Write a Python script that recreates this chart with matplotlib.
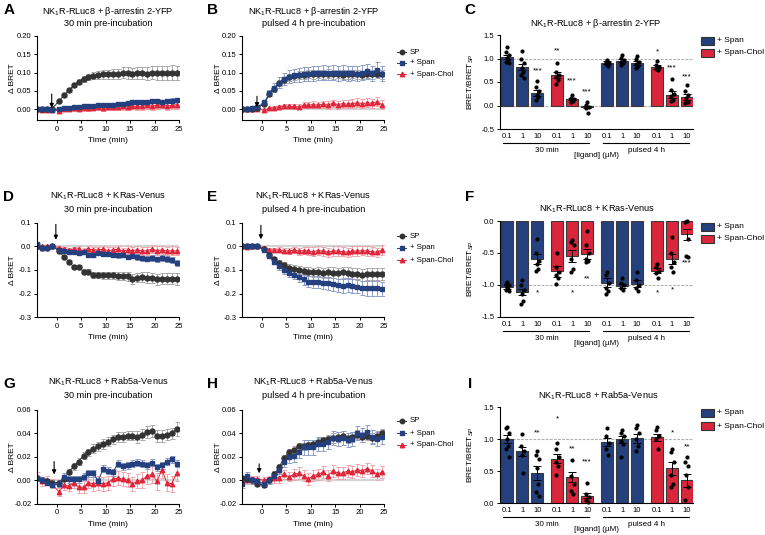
import matplotlib.pyplot as plt
from matplotlib.lines import Line2D
from matplotlib.patches import Rectangle

plt.rcParams['font.family'] = ['Liberation Sans', 'DejaVu Sans']
plt.rcParams['mathtext.fontset'] = 'custom'
plt.rcParams['mathtext.rm'] = 'Liberation Sans'
plt.rcParams['mathtext.it'] = 'Liberation Sans:italic'
plt.rcParams['axes.unicode_minus'] = False
plt.rcParams['axes.linewidth'] = 0.8

# ---------------- data ----------------
time_min = [-4, -3, -2, -1, 0.5, 1.5, 2.5, 3.5, 4.5, 5.5, 6.5, 7.5, 8.5, 9.5, 10.5,
            11.5, 12.5, 13.5, 14.5, 15.5, 16.5, 17.5, 18.5, 19.5, 20.5, 21.5, 22.5,
            23.5, 24.5]

# A: beta-arrestin, 30 min
A_sp = [0.0, 0.0, 0.0, 0.0,
        0.022, 0.038, 0.052, 0.065, 0.075, 0.083, 0.088, 0.091, 0.093, 0.095,
        0.095, 0.096, 0.097, 0.099, 0.098, 0.097, 0.098, 0.099, 0.097, 0.099,
        0.098, 0.099, 0.099, 0.100, 0.099]
A_sp_err = [0.002, 0.002, 0.002, 0.002,
            0.003, 0.004, 0.005, 0.006, 0.007, 0.008, 0.009, 0.010, 0.011, 0.012,
            0.013, 0.014, 0.014, 0.015, 0.016, 0.016, 0.017, 0.017, 0.018, 0.018,
            0.019, 0.019, 0.020, 0.020, 0.020]
A_span = [0.0, 0.0, 0.0, -0.002,
          0.000, 0.003, 0.004, 0.005, 0.006, 0.007, 0.007, 0.008, 0.010, 0.010,
          0.011, 0.012, 0.013, 0.015, 0.017, 0.018, 0.019, 0.020, 0.020, 0.022,
          0.021, 0.020, 0.022, 0.023, 0.024]
A_span_err = [0.002, 0.002, 0.002, 0.002,
              0.003, 0.003, 0.003, 0.004, 0.004, 0.004, 0.004, 0.004, 0.005, 0.005,
              0.005, 0.005, 0.005, 0.005, 0.005, 0.005, 0.006, 0.006, 0.006, 0.006,
              0.006, 0.006, 0.006, 0.006, 0.006]
A_chol = [0.0, -0.002, -0.002, -0.002,
          -0.005, -0.001, 0.000, 0.002, 0.001, 0.003, 0.002, 0.004, 0.005, 0.003,
          0.005, 0.006, 0.005, 0.007, 0.006, 0.008, 0.007, 0.008, 0.010, 0.008,
          0.010, 0.012, 0.008, 0.010, 0.012]
A_chol_err = [0.003, 0.003, 0.003, 0.003,
              0.005, 0.005, 0.005, 0.006, 0.006, 0.006, 0.007, 0.007, 0.007, 0.008,
              0.008, 0.008, 0.008, 0.009, 0.009, 0.009, 0.009, 0.010, 0.010, 0.010,
              0.010, 0.010, 0.011, 0.011, 0.011]

# B: beta-arrestin, pulsed 4 h
B_sp = [0.0, 0.0, 0.0, 0.002,
        0.015, 0.040, 0.056, 0.070, 0.080, 0.087, 0.090, 0.092, 0.094, 0.095,
        0.095, 0.096, 0.095, 0.097, 0.095, 0.096, 0.094, 0.095, 0.096, 0.095,
        0.093, 0.096, 0.095, 0.097, 0.095]
B_sp_err = [0.002, 0.002, 0.002, 0.002,
            0.003, 0.005, 0.007, 0.008, 0.009, 0.010, 0.010, 0.011, 0.011, 0.011,
            0.012, 0.012, 0.012, 0.012, 0.012, 0.012, 0.012, 0.012, 0.012, 0.012,
            0.012, 0.012, 0.012, 0.012, 0.012]
B_span = [0.0, 0.0, 0.002, 0.005,
          0.018, 0.043, 0.058, 0.072, 0.082, 0.088, 0.092, 0.093, 0.096, 0.096,
          0.098, 0.099, 0.100, 0.099, 0.100, 0.098, 0.100, 0.098, 0.099, 0.097,
          0.100, 0.103, 0.098, 0.108, 0.097]
B_span_err = [0.002, 0.002, 0.002, 0.003,
              0.004, 0.008, 0.012, 0.015, 0.017, 0.018, 0.019, 0.019, 0.020, 0.020,
              0.020, 0.020, 0.020, 0.020, 0.020, 0.020, 0.020, 0.020, 0.020, 0.020,
              0.020, 0.020, 0.020, 0.020, 0.020]
B_chol = [0.0, 0.0, 0.0, 0.0,
          -0.003, 0.002, 0.004, 0.006, 0.008, 0.008, 0.007, 0.006, 0.010, 0.011,
          0.012, 0.011, 0.013, 0.011, 0.016, 0.012, 0.015, 0.013, 0.015, 0.017,
          0.015, 0.017, 0.016, 0.020, 0.012]
B_chol_err = [0.002, 0.002, 0.002, 0.002,
              0.003, 0.004, 0.005, 0.005, 0.006, 0.006, 0.007, 0.007, 0.008, 0.008,
              0.009, 0.009, 0.010, 0.010, 0.010, 0.011, 0.011, 0.011, 0.012, 0.012,
              0.012, 0.012, 0.012, 0.012, 0.012]

# D: KRas, 30 min
D_sp = [0.0, -0.005, -0.005, 0.003,
        -0.020, -0.045, -0.065, -0.087, -0.088, -0.107, -0.108, -0.120, -0.122, -0.122,
        -0.123, -0.123, -0.124, -0.125, -0.126, -0.138, -0.132, -0.130, -0.132, -0.134,
        -0.140, -0.137, -0.136, -0.137, -0.137]
D_sp_err = [0.004, 0.004, 0.004, 0.004,
            0.005, 0.006, 0.007, 0.008, 0.009, 0.010, 0.011, 0.012, 0.013, 0.014,
            0.015, 0.016, 0.017, 0.018, 0.019, 0.020, 0.020, 0.021, 0.022, 0.022,
            0.023, 0.023, 0.024, 0.024, 0.025]
D_span = [0.012, -0.005, -0.005, 0.000,
          -0.015, -0.020, -0.025, -0.025, -0.028, -0.022, -0.035, -0.035, -0.030, -0.033,
          -0.032, -0.037, -0.038, -0.035, -0.045, -0.040, -0.045, -0.050, -0.052, -0.050,
          -0.055, -0.050, -0.055, -0.057, -0.070]
D_span_err = [0.004, 0.004, 0.004, 0.004,
              0.005, 0.005, 0.006, 0.006, 0.007, 0.007, 0.008, 0.008, 0.008, 0.009,
              0.009, 0.009, 0.010, 0.010, 0.010, 0.011, 0.011, 0.011, 0.012, 0.012,
              0.012, 0.012, 0.013, 0.013, 0.013]
D_chol = [0.0, 0.0, 0.0, 0.0,
          -0.005, -0.010, -0.015, -0.012, -0.010, -0.020, -0.010, -0.015, -0.015, -0.012,
          -0.018, -0.015, -0.012, -0.020, -0.015, -0.018, -0.015, -0.020, -0.018, -0.012,
          -0.018, -0.015, -0.020, -0.018, -0.020]
D_chol_err = [0.004, 0.004, 0.004, 0.004,
              0.006, 0.007, 0.008, 0.009, 0.010, 0.011, 0.012, 0.012, 0.013, 0.013,
              0.014, 0.014, 0.015, 0.015, 0.016, 0.016, 0.017, 0.017, 0.017, 0.018,
              0.018, 0.018, 0.018, 0.018, 0.018]

# E: KRas, pulsed 4 h
E_sp = [0.0, 0.0, 0.0, 0.0,
        -0.012, -0.035, -0.055, -0.070, -0.080, -0.090, -0.095, -0.100, -0.105, -0.108,
        -0.110, -0.110, -0.112, -0.110, -0.112, -0.113, -0.110, -0.113, -0.115, -0.115,
        -0.120, -0.118, -0.117, -0.118, -0.117]
E_sp_err = [0.004, 0.004, 0.004, 0.004,
            0.005, 0.007, 0.009, 0.011, 0.013, 0.015, 0.016, 0.017, 0.018, 0.019,
            0.020, 0.021, 0.022, 0.022, 0.023, 0.023, 0.024, 0.024, 0.025, 0.025,
            0.025, 0.025, 0.025, 0.025, 0.025]
E_span = [0.0, 0.0, 0.0, 0.0,
          -0.015, -0.040, -0.065, -0.085, -0.100, -0.112, -0.120, -0.130, -0.140, -0.150,
          -0.150, -0.152, -0.155, -0.157, -0.160, -0.165, -0.168, -0.163, -0.168, -0.170,
          -0.175, -0.178, -0.178, -0.178, -0.180]
E_span_err = [0.004, 0.004, 0.004, 0.004,
              0.006, 0.008, 0.010, 0.013, 0.015, 0.017, 0.019, 0.021, 0.022, 0.023,
              0.024, 0.025, 0.026, 0.026, 0.027, 0.027, 0.028, 0.028, 0.029, 0.029,
              0.029, 0.030, 0.030, 0.030, 0.030]
E_chol = [0.0, -0.003, 0.0, 0.0,
          -0.005, -0.015, -0.015, -0.015, -0.018, -0.020, -0.015, -0.020, -0.018, -0.020,
          -0.022, -0.018, -0.020, -0.025, -0.020, -0.020, -0.022, -0.025, -0.020, -0.020,
          -0.018, -0.020, -0.022, -0.025, -0.015]
E_chol_err = [0.005, 0.005, 0.005, 0.005,
              0.007, 0.009, 0.010, 0.011, 0.012, 0.013, 0.014, 0.015, 0.016, 0.017,
              0.018, 0.018, 0.019, 0.019, 0.020, 0.020, 0.020, 0.020, 0.020, 0.020,
              0.020, 0.020, 0.020, 0.020, 0.020]

# G: Rab5a, 30 min
G_sp = [0.002, 0.0, -0.001, -0.002,
        -0.002, 0.001, 0.007, 0.012, 0.016, 0.021, 0.024, 0.027, 0.029, 0.031,
        0.033, 0.035, 0.037, 0.037, 0.038, 0.038, 0.037, 0.039, 0.041, 0.042,
        0.038, 0.038, 0.039, 0.040, 0.044]
G_sp_err = [0.002, 0.002, 0.002, 0.002,
            0.002, 0.002, 0.003, 0.003, 0.003, 0.003, 0.003, 0.004, 0.004, 0.004,
            0.004, 0.004, 0.004, 0.004, 0.004, 0.004, 0.005, 0.005, 0.005, 0.005,
            0.005, 0.005, 0.005, 0.005, 0.006]
G_span = [0.002, 0.0, -0.002, -0.004,
          -0.003, 0.003, 0.001, 0.001, 0.001, 0.003, 0.006, 0.006, -0.001, 0.010,
          0.008, 0.007, 0.014, 0.012, 0.013, 0.014, 0.015, 0.014, 0.013, 0.015,
          0.011, 0.013, 0.016, 0.018, 0.014]
G_span_err = [0.002, 0.002, 0.002, 0.002,
              0.003, 0.003, 0.003, 0.003, 0.003, 0.003, 0.003, 0.003, 0.003, 0.003,
              0.003, 0.003, 0.003, 0.003, 0.003, 0.003, 0.003, 0.003, 0.003, 0.003,
              0.003, 0.003, 0.003, 0.003, 0.003]
G_chol = [0.003, -0.001, 0.0, -0.003,
          -0.010, -0.004, -0.005, -0.002, -0.006, -0.006, -0.002, -0.003, -0.002, -0.003,
          -0.002, 0.001, 0.002, 0.001, 0.000, -0.003, -0.001, 0.000, 0.004, 0.005,
          -0.001, 0.009, -0.002, -0.003, 0.006]
G_chol_err = [0.004, 0.004, 0.004, 0.004,
              0.003, 0.004, 0.004, 0.005, 0.005, 0.005, 0.005, 0.006, 0.006, 0.006,
              0.006, 0.006, 0.006, 0.006, 0.006, 0.006, 0.006, 0.007, 0.007, 0.007,
              0.007, 0.007, 0.007, 0.007, 0.007]

# H: Rab5a, pulsed 4 h
H_sp = [0.002, 0.001, 0.0, -0.003,
        -0.004, 0.000, 0.005, 0.011, 0.019, 0.024, 0.026, 0.029, 0.029, 0.030,
        0.031, 0.033, 0.034, 0.035, 0.036, 0.037, 0.038, 0.036, 0.037, 0.039,
        0.037, 0.038, 0.036, 0.038, 0.040]
H_sp_err = [0.002, 0.002, 0.002, 0.002,
            0.002, 0.002, 0.002, 0.003, 0.003, 0.003, 0.003, 0.003, 0.003, 0.003,
            0.003, 0.003, 0.003, 0.003, 0.004, 0.004, 0.004, 0.004, 0.004, 0.004,
            0.004, 0.004, 0.004, 0.004, 0.004]
H_span = [-0.003, 0.004, 0.0, -0.001,
          -0.003, 0.000, 0.004, 0.009, 0.016, 0.020, 0.021, 0.024, 0.028, 0.028,
          0.028, 0.031, 0.031, 0.033, 0.036, 0.035, 0.036, 0.034, 0.035, 0.040,
          0.039, 0.041, 0.037, 0.035, 0.037]
H_span_err = [0.004, 0.003, 0.003, 0.003,
              0.003, 0.003, 0.004, 0.004, 0.005, 0.005, 0.005, 0.005, 0.006, 0.006,
              0.006, 0.006, 0.006, 0.006, 0.006, 0.006, 0.006, 0.006, 0.006, 0.006,
              0.006, 0.006, 0.006, 0.006, 0.006]
H_chol = [0.001, 0.0, 0.001, 0.001,
          0.000, 0.001, 0.002, 0.002, 0.005, 0.003, 0.005, 0.006, 0.004, 0.001,
          0.004, 0.005, 0.007, 0.004, 0.008, 0.006, 0.006, 0.008, 0.007, 0.009,
          0.008, 0.010, 0.008, 0.005, 0.007]
H_chol_err = [0.003, 0.003, 0.003, 0.003,
              0.003, 0.003, 0.004, 0.004, 0.004, 0.004, 0.005, 0.005, 0.005, 0.005,
              0.005, 0.005, 0.005, 0.005, 0.005, 0.005, 0.005, 0.005, 0.005, 0.005,
              0.005, 0.005, 0.005, 0.005, 0.005]

# bar charts
conc_labels = ['0.1', '1', '10'] * 4
bar_groups = ['+ Span'] * 3 + ['+ Span-Chol'] * 3 + ['+ Span'] * 3 + ['+ Span-Chol'] * 3

C_means = [1.03, 0.82, 0.27, 0.645, 0.14, -0.03, 0.91, 0.95, 0.91, 0.82, 0.23, 0.18]
C_sem = [0.05, 0.07, 0.06, 0.06, 0.02, 0.03, 0.03, 0.03, 0.04, 0.04, 0.07, 0.07]
C_dots = [[1.25, 1.14, 1.08, 1.02, 0.97, 0.92, 0.90],
          [1.15, 1.00, 0.90, 0.80, 0.72, 0.65, 0.58],
          [0.53, 0.40, 0.30, 0.22, 0.18, 0.12],
          [0.90, 0.72, 0.65, 0.60, 0.55, 0.45],
          [0.22, 0.17, 0.14, 0.12, 0.10, 0.08],
          [0.08, 0.02, -0.03, -0.06, -0.15],
          [0.97, 0.93, 0.90, 0.88, 0.85],
          [1.08, 1.02, 0.97, 0.93, 0.90, 0.86],
          [1.05, 0.98, 0.93, 0.88, 0.83, 0.80],
          [0.95, 0.87, 0.82, 0.78, 0.75],
          [0.57, 0.33, 0.25, 0.20, 0.12, 0.10],
          [0.44, 0.30, 0.22, 0.15, 0.08, 0.05]]
C_stars = ['', '', '***', '**', '***', '***', '', '', '', '*', '***', '***']
C_star_y = [None, None, 0.73, 1.16, 0.52, 0.28, None, None, None, 1.14, 0.79, 0.61]

F_means = [-1.03, -1.11, -0.60, -0.79, -0.55, -0.52, -0.97, -1.02, -0.98, -0.78, -0.60, -0.21]
F_sem = [0.03, 0.05, 0.08, 0.08, 0.10, 0.08, 0.07, 0.03, 0.06, 0.04, 0.08, 0.08]
F_dots = [[-0.95, -0.98, -1.00, -1.03, -1.06, -1.08, -1.10],
          [-0.92, -1.00, -1.08, -1.15, -1.25, -1.30],
          [-0.28, -0.50, -0.62, -0.68, -0.75, -0.78],
          [-0.50, -0.72, -0.80, -0.85, -0.90, -0.98],
          [-0.30, -0.33, -0.38, -0.60, -0.75, -0.80],
          [-0.15, -0.38, -0.50, -0.60, -0.62, -0.65],
          [-0.80, -0.85, -0.97, -1.05, -1.10, -1.15],
          [-0.90, -0.97, -1.00, -1.05, -1.08],
          [-0.80, -0.92, -1.00, -1.05, -1.10],
          [-0.68, -0.72, -0.78, -0.82, -0.90],
          [-0.25, -0.50, -0.65, -0.72, -0.80],
          [0.00, -0.02, -0.28, -0.55, -0.57]]
F_stars = ['', '', '*', '', '*', '**', '', '', '', '*', '*', '***']
F_star_y = [None, None, -1.12, None, -1.12, -0.91, None, None, None, -1.12, -1.08, -0.66]

I_means = [1.00, 0.81, 0.47, 0.70, 0.41, 0.12, 0.96, 1.00, 1.02, 1.03, 0.55, 0.36]
I_sem = [0.06, 0.07, 0.11, 0.07, 0.08, 0.04, 0.06, 0.05, 0.07, 0.06, 0.10, 0.10]
I_dots = [[1.20, 1.17, 1.10, 1.00, 0.90, 0.85, 0.72],
          [1.08, 0.90, 0.82, 0.75, 0.48],
          [0.82, 0.75, 0.70, 0.55, 0.30, 0.18, 0.12],
          [0.95, 0.85, 0.72, 0.65, 0.58, 0.45],
          [0.67, 0.42, 0.30, 0.20, 0.15],
          [0.31, 0.15, 0.10, 0.05, 0.02],
          [1.17, 1.05, 0.95, 0.85, 0.75],
          [1.15, 1.10, 1.05, 0.98, 0.92, 0.73],
          [1.23, 1.18, 1.10, 1.00, 0.90, 0.82],
          [1.20, 1.15, 1.05, 1.00, 0.85],
          [0.85, 0.80, 0.65, 0.45, 0.30, 0.25],
          [0.72, 0.65, 0.58, 0.45, 0.25, 0.05]]
I_stars = ['', '', '**', '*', '**', '***', '', '', '', '', '*', '**']
I_star_y = [None, None, 1.10, 1.32, 0.85, 0.64, None, None, None, None, 1.10, 0.88]

# ---------------- style ----------------
W, H = 765, 535
SP_COL, SP_ERR = '#333333', '#a8a8a8'
SPAN_COL, SPAN_ERR = '#24407f', '#8d9dc9'
CHOL_COL, CHOL_ERR = '#e0263a', '#f2a5ad'
BAR_COL = {'+ Span': '#24417e', '+ Span-Chol': '#d9263a'}

fig = plt.figure(figsize=(W / 100, H / 100), dpi=100)


def rect(l, t, r, b):
    return [l / W, 1 - b / H, (r - l) / W, (b - t) / H]


def ftext(x, y, s, **kw):
    kw.setdefault('ha', 'center')
    kw.setdefault('va', 'center')
    fig.text(x / W, 1 - y / H, s, **kw)


def style_axes(ax):
    for s in ('top', 'right'):
        ax.spines[s].set_visible(False)
    ax.tick_params(length=2.5, width=0.7, pad=1.5, labelsize=5.5)


def line_panel(box, series, ylim, yticks, fmt, arrow):
    ax = fig.add_axes(rect(*box))
    ax.axhline(0, color='#d4d4d4', lw=1.6, zorder=0.5)
    sp, sp_e, span, span_e, chol, chol_e = series
    opts = [(chol, chol_e, CHOL_COL, CHOL_ERR, '^', 3.2),
            (sp, sp_e, SP_COL, SP_ERR, 'o', 3.6),
            (span, span_e, SPAN_COL, SPAN_ERR, 's', 3.5)]
    for y, e, c, ec, m, ms in opts:
        ax.errorbar(time_min, y, yerr=e, color=c, ecolor=ec, marker=m, ms=ms,
                    mec=c, lw=0.7, elinewidth=0.7, capsize=1.8, capthick=0.7)
    ax.set_xlim(-4, 25)
    ax.set_ylim(*ylim)
    ax.set_xticks([0, 5, 10, 15, 20, 25])
    ax.set_yticks(yticks)
    ax.set_yticklabels([fmt.format(v) for v in yticks])
    ax.annotate('', xy=(arrow[0], arrow[2]), xytext=(arrow[0], arrow[1]),
                arrowprops=dict(arrowstyle='-|>', color='k', lw=0.8,
                                mutation_scale=6, shrinkA=0, shrinkB=0))
    style_axes(ax)
    return ax


def line_legend(x, ys):
    items = [('SP', SP_COL, 'o'), ('+ Span', SPAN_COL, 's'), ('+ Span-Chol', CHOL_COL, '^')]
    for (lab, c, m), y in zip(items, ys):
        fy = 1 - y / H
        fig.add_artist(Line2D([(x - 5) / W, (x + 4) / W], [fy, fy], color=c, lw=0.7,
                              transform=fig.transFigure))
        fig.add_artist(Line2D([x / W], [fy], color=c, marker=m, ms=3.2,
                              transform=fig.transFigure))
        ftext(x + 8, y, lab, ha='left', fontsize=5.6)


def bar_positions():
    pos = []
    for g in range(4):
        for k in range(3):
            pos.append(g * 3.333 + k)
    return pos


def bar_panel(box, means, sem, dots, stars, star_y, ylim, yticks, refs, under_y):
    ax = fig.add_axes(rect(*box))
    xs = bar_positions()
    cols = [BAR_COL[g] for g in bar_groups]
    for r in refs:
        ax.axhline(r, color='#b0b0b0', lw=0.8, ls=(0, (2.5, 1.2)), zorder=0.5)
    ax.bar(xs, means, width=0.78, color=cols, edgecolor='#3a3a3a', lw=0.8, zorder=2)
    ax.errorbar(xs, means, yerr=sem, fmt='none', ecolor='k', elinewidth=0.7,
                capsize=2.6, capthick=0.7, zorder=4)
    jit = [0.0, -0.1, 0.1, -0.05, 0.05, -0.1, 0.1]
    for x, d in zip(xs, dots):
        ax.plot([x + jit[i] for i in range(len(d))], d, 'o', color='k', ms=2.0,
                zorder=5, clip_on=False)
    for x, s, y in zip(xs, stars, star_y):
        if s:
            ax.text(x, y, s, ha='center', va='center', fontsize=6)
    ax.set_xlim(-0.49, 12.4)
    ax.set_ylim(*ylim)
    ax.set_yticks(yticks)
    ax.set_yticklabels(['{:.1f}'.format(v) for v in yticks])
    ax.set_xticks(xs)
    ax.set_xticklabels(conc_labels, fontsize=5.8)
    style_axes(ax)
    ax.tick_params(axis='x', length=0, pad=3)
    # group underlines + labels
    for x0, x1 in ((502.7, 589), (603, 689)):
        fy = 1 - under_y / H
        fig.add_artist(Line2D([x0 / W, x1 / W], [fy, fy], color='k', lw=0.8,
                              transform=fig.transFigure))
    ftext(546.7, under_y + 8, '30 min', fontsize=5.8)
    ftext(646.7, under_y + 8, 'pulsed 4 h', fontsize=5.8)
    ftext(596, under_y + 12.5, '[ligand] (µM)', fontsize=5.8)
    return ax


def bar_legend(ys):
    for g, y in zip(['+ Span', '+ Span-Chol'], ys):
        fig.add_artist(Rectangle((700.7 / W, 1 - (y + 4) / H), 13.3 / W, 8 / H,
                                 facecolor=BAR_COL[g], edgecolor='#333333', lw=0.8,
                                 transform=fig.transFigure))
        ftext(717, y, g, ha='left', fontsize=6)


# ---------------- panels ----------------
T_FS = 6.6
rows = [
    # (top, bottom, title y1, title y2, xlabel y, letter y)
    (36, 120, 11.8, 23.2, 140.7, 10),
    (222.7, 317.3, 196.2, 209.6, 337.7, 197),
    (410, 503.7, 381.8, 396, 524, 384),
]
constructs = ['NK$_1$R-RLuc8 + β-arrestin 2-YFP', 'NK$_1$R-RLuc8 + KRas-Venus',
              'NK$_1$R-RLuc8 + Rab5a-Venus']
line_sets = [
    ((A_sp, A_sp_err, A_span, A_span_err, A_chol, A_chol_err),
     (B_sp, B_sp_err, B_span, B_span_err, B_chol, B_chol_err),
     (-0.03, 0.2), [0.0, 0.05, 0.10, 0.15, 0.20], '{:.2f}',
     (-1.0, 0.041, 0.003), (-1.0, 0.035, 0.005)),
    ((D_sp, D_sp_err, D_span, D_span_err, D_chol, D_chol_err),
     (E_sp, E_sp_err, E_span, E_span_err, E_chol, E_chol_err),
     (-0.3, 0.1), [-0.3, -0.2, -0.1, 0.0, 0.1], '{:.1f}',
     (-0.15, 0.093, 0.028), (-0.2, 0.089, 0.03)),
    ((G_sp, G_sp_err, G_span, G_span_err, G_chol, G_chol_err),
     (H_sp, H_sp_err, H_span, H_span_err, H_chol, H_chol_err),
     (-0.02, 0.06), [-0.02, 0.0, 0.02, 0.04, 0.06], '{:.2f}',
     (-0.5, 0.016, 0.005), (-0.55, 0.014, 0.006)),
]
letters = [('A', 'B', 'C'), ('D', 'E', 'F'), ('G', 'H', 'I')]
legend_rows = [(52, 63, 74), (236, 247.7, 260), (421, 433.3, 445)]

for (top, bot, ty1, ty2, xly, ly), name, ls, lets, lrows in zip(rows, constructs, line_sets,
                                                                  letters, legend_rows):
    left_set, right_set, ylim, yt, fmt, arr_l, arr_r = ls
    for (l, r), data, arr, sub in (((37, 179), left_set, arr_l, '30 min pre-incubation'),
                                   ((242.3, 384.3), right_set, arr_r,
                                    'pulsed 4 h pre-incubation')):
        line_panel((l, top, r, bot), data, ylim, yt, fmt, arr)
        cx = (l + r) / 2
        ftext(cx, ty1, name, fontsize=T_FS)
        ftext(cx, ty2, sub, fontsize=T_FS)
        ftext(cx, xly, 'Time (min)', fontsize=6)
        ftext(l - 24, (top + bot) / 2, 'Δ BRET', rotation=90, fontsize=6)
    line_legend(401.7, lrows)
    ftext(9, ly, lets[0], fontsize=11, fontweight='bold')
    ftext(212, ly, lets[1], fontsize=11, fontweight='bold')
    ftext(470, ly, lets[2], fontsize=11, fontweight='bold')

bar_panel((500, 35, 693, 129), C_means, C_sem, C_dots, C_stars, C_star_y,
          (-0.5, 1.5), [-0.5, 0.0, 0.5, 1.0, 1.5], [0.0, 1.0], 142.7)
ftext(596, 23, constructs[0], fontsize=T_FS)
ftext(471, 82, 'BRET/BRET$_{SP}$', rotation=90, fontsize=6)
bar_legend((41, 52.7))

bar_panel((500, 221, 693, 316.7), F_means, F_sem, F_dots, F_stars, F_star_y,
          (-1.5, 0.0), [-1.5, -1.0, -0.5, 0.0], [-1.0], 330.7)
ftext(596.7, 209, constructs[1], fontsize=T_FS)
ftext(471, 269, 'BRET/BRET$_{SP}$', rotation=90, fontsize=6)
bar_legend((226.7, 239))

bar_panel((500, 407.3, 693, 503.3), I_means, I_sem, I_dots, I_stars, I_star_y,
          (0.0, 1.5), [0.0, 0.5, 1.0, 1.5], [1.0], 516.7)
ftext(598, 395.7, constructs[2], fontsize=T_FS)
ftext(471, 455, 'BRET/BRET$_{SP}$', rotation=90, fontsize=6)
bar_legend((412.7, 426))

fig.savefig('out.png', dpi=100)
